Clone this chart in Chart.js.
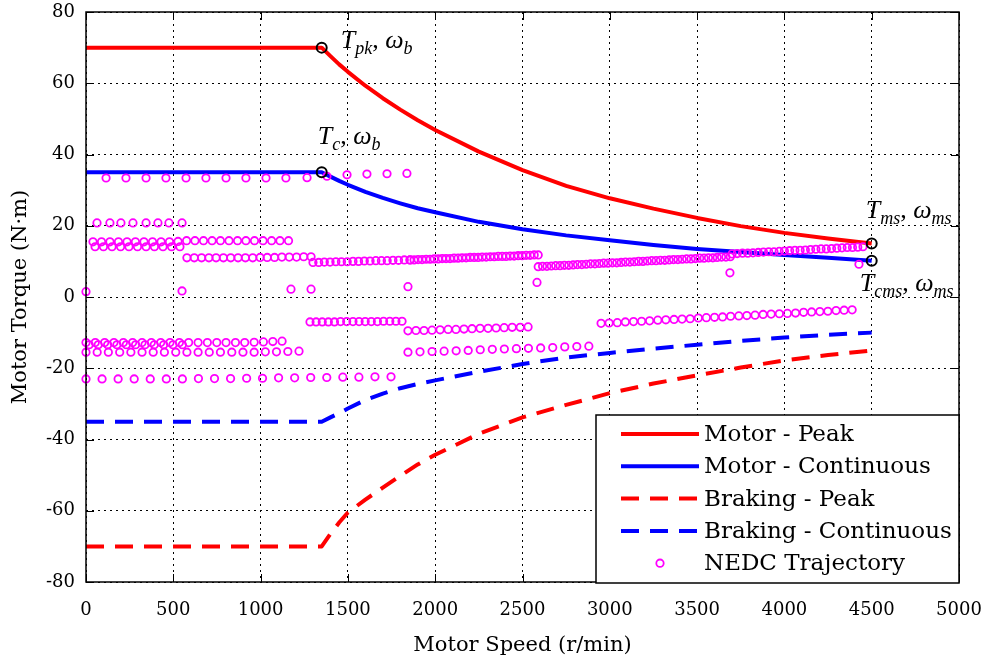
<!DOCTYPE html>
<html>
<head>
<meta charset="utf-8">
<title>Motor torque envelope and NEDC operating points</title>
<script src="https://cdn.jsdelivr.net/npm/chart.js@4.4.1/dist/chart.umd.min.js"></script>
<style>
  html, body { margin: 0; padding: 0; background: #fff; }
  #wrap { width: 990px; height: 663px; }
  canvas { display: block; }
</style>
</head>
<body>
<div id="wrap"><canvas id="c" width="990" height="663"></canvas></div>
<script>
// ---- torque envelopes (r/min, N·m) ----
const envelopeSpeed = [0, 1350, 1400, 1450, 1500, 1600, 1700, 1800, 1900, 2000, 2250, 2500, 2750, 3000, 3250, 3500, 3750, 4000, 4250, 4500];
const motorPeak = [70, 70, 67.6, 65.3, 63.2, 59.3, 55.8, 52.6, 49.6, 46.9, 40.8, 35.6, 31.2, 27.7, 24.8, 22.2, 19.9, 18.0, 16.4, 15.0];
const motorCont = [35, 35, 33.8, 32.6, 31.5, 29.5, 27.8, 26.3, 24.9, 23.8, 21.1, 19.0, 17.3, 15.9, 14.6, 13.5, 12.6, 11.8, 11.0, 10.2];
const brakePeak = [-70, -70, -66.5, -63.3, -60.5, -56.9, -53.5, -50.2, -47.0, -44.3, -38.4, -33.8, -30.3, -27.0, -24.3, -22.0, -19.8, -17.8, -16.3, -15.0];
const brakeCont = [-35, -35, -33.8, -32.6, -31.3, -28.9, -27.1, -25.6, -24.4, -23.4, -21.0, -18.8, -17.0, -15.7, -14.5, -13.4, -12.3, -11.4, -10.6, -10.0];

// ---- corner points of the envelopes ----
const cornerSpeed = [1350, 1350, 4500, 4500];
const cornerTorque = [70, 35, 15.0, 10.2];
const cornerSymbol = [['T', 'pk', 'ω', 'b'], ['T', 'c', 'ω', 'b'], ['T', 'ms', 'ω', 'ms'], ['T', 'cms', 'ω', 'ms']];

// ---- NEDC trajectory, [speed r/min, torque N·m] ----
const nedcAccel34 = [[115,33.4],[229,33.4],[344,33.4],[458,33.4],[573,33.4],[687,33.4],[802,33.4],[916,33.4],[1031,33.4],[1145,33.4],[1266,33.5],[1380,33.9],[1495,34.3],[1609,34.5],[1724,34.6],[1838,34.7]];
const nedcAccel21 = [[63,20.8],[137,20.8],[200,20.8],[269,20.8],[344,20.8],[412,20.8],[475,20.8],[550,20.8]];
const nedcAccel15 = [[40,15.5],[89,15.5],[137,15.5],[186,15.5],[235,15.5],[283,15.5],[332,15.5],[381,15.5],[430,15.5],[478,15.5],[527,15.6],[576,15.8],[624,15.8],[673,15.8],[722,15.8],[770,15.8],[819,15.8],[868,15.8],[916,15.8],[965,15.8],[1014,15.8],[1063,15.8],[1111,15.8],[1160,15.8]];
const nedcAccel14 = [[52,14.1],[100,14.1],[149,14.1],[198,14.1],[246,14.1],[295,14.1],[344,14.1],[392,14.1],[441,14.1],[490,14.1],[538,14.1]];
const nedcAccel11 = [[578,11.0],[620,11.0],[662,11.0],[704,11.0],[745,11.0],[787,11.0],[829,11.0],[871,11.0],[913,11.0],[955,11.0],[997,11.1],[1038,11.1],[1080,11.1],[1122,11.2],[1164,11.2],[1206,11.2],[1247,11.3],[1289,11.3]];
const nedcAccel35to50 = [[1300,9.7],[1333,9.7],[1365,9.8],[1398,9.8],[1431,9.9],[1463,9.9],[1496,9.9],[1529,10.0],[1561,10.0],[1594,10.1],[1627,10.1],[1660,10.2],[1692,10.2],[1725,10.2],[1758,10.3],[1790,10.3],[1823,10.4],[1856,10.4]];
const nedcAccel50to70 = [[1856,10.4],[1879,10.4],[1902,10.5],[1925,10.5],[1948,10.6],[1971,10.6],[1994,10.7],[2017,10.7],[2040,10.8],[2062,10.8],[2085,10.8],[2108,10.9],[2131,10.9],[2154,11.0],[2177,11.0],[2200,11.1],[2223,11.1],[2246,11.1],[2269,11.2],[2292,11.2],[2315,11.3],[2338,11.3],[2361,11.4],[2384,11.4],[2406,11.4],[2429,11.5],[2452,11.5],[2475,11.6],[2498,11.6],[2521,11.7],[2544,11.7],[2567,11.8],[2590,11.8]];
const nedcAccel70to100 = [[2590,8.5],[2615,8.6],[2640,8.6],[2665,8.7],[2690,8.8],[2715,8.8],[2740,8.9],[2765,8.9],[2790,9.0],[2815,9.1],[2840,9.1],[2865,9.2],[2890,9.3],[2915,9.3],[2940,9.4],[2965,9.5],[2990,9.5],[3015,9.6],[3040,9.6],[3065,9.7],[3090,9.8],[3115,9.8],[3140,9.9],[3165,10.0],[3190,10.0],[3215,10.1],[3240,10.2],[3265,10.2],[3290,10.3],[3315,10.3],[3340,10.4],[3365,10.5],[3390,10.5],[3415,10.6],[3440,10.7],[3465,10.7],[3490,10.8],[3515,10.9],[3540,10.9],[3565,11.0],[3590,11.0],[3615,11.1],[3640,11.2],[3665,11.2],[3690,11.3]];
const nedcAccel100to120 = [[3700,12.1],[3730,12.2],[3760,12.3],[3790,12.3],[3820,12.4],[3850,12.5],[3880,12.6],[3910,12.7],[3940,12.7],[3970,12.8],[4000,12.9],[4030,13.0],[4060,13.1],[4090,13.1],[4120,13.2],[4150,13.3],[4180,13.4],[4210,13.5],[4240,13.5],[4270,13.6],[4300,13.7],[4330,13.8],[4360,13.9],[4390,13.9],[4420,14.0],[4450,14.1]];
const nedcCruise = [[0,1.5],[550,1.7],[1174,2.2],[1289,2.2],[1844,2.9],[2583,4.1],[3688,6.8],[4427,9.2]];
const nedcDecel7 = [[1283,-7.0],[1318,-7.0],[1353,-7.0],[1388,-7.0],[1423,-7.0],[1458,-6.9],[1493,-6.9],[1529,-6.9],[1564,-6.9],[1599,-6.9],[1634,-6.9],[1669,-6.9],[1704,-6.8],[1740,-6.8],[1775,-6.8],[1810,-6.8]];
const nedcDecel9 = [[1844,-9.5],[1890,-9.4],[1936,-9.4],[1982,-9.3],[2028,-9.2],[2074,-9.1],[2119,-9.1],[2165,-9.0],[2211,-8.9],[2257,-8.8],[2303,-8.8],[2349,-8.7],[2395,-8.6],[2441,-8.5],[2487,-8.5],[2532,-8.4]];
const nedcDecelHigh = [[2950,-7.4],[2996,-7.3],[3043,-7.2],[3089,-7.0],[3136,-6.9],[3182,-6.8],[3228,-6.7],[3275,-6.5],[3321,-6.4],[3368,-6.3],[3414,-6.2],[3460,-6.1],[3507,-5.9],[3553,-5.8],[3600,-5.7],[3646,-5.6],[3692,-5.4],[3739,-5.3],[3785,-5.2],[3832,-5.1],[3878,-4.9],[3924,-4.8],[3971,-4.7],[4017,-4.6],[4064,-4.5],[4110,-4.3],[4156,-4.2],[4203,-4.1],[4249,-4.0],[4296,-3.8],[4342,-3.7],[4388,-3.6]];
const nedcDecel13 = [[0,-12.8],[53,-12.8],[107,-12.8],[160,-12.8],[214,-12.8],[267,-12.8],[321,-12.8],[374,-12.8],[428,-12.8],[481,-12.8],[535,-12.8],[588,-12.8],[642,-12.8],[695,-12.8],[749,-12.8],[802,-12.8],[856,-12.8],[909,-12.8],[963,-12.7],[1016,-12.6],[1070,-12.5],[1123,-12.4]];
const nedcDecel13b = [[18,-13.4],[70,-13.4],[124,-13.4],[177,-13.4],[231,-13.4],[284,-13.4],[338,-13.4],[391,-13.4],[445,-13.4],[498,-13.4],[552,-13.4]];
const nedcDecel15 = [[0,-15.5],[64,-15.5],[128,-15.5],[193,-15.5],[257,-15.5],[321,-15.5],[385,-15.5],[449,-15.5],[514,-15.5],[578,-15.5],[642,-15.5],[706,-15.5],[770,-15.5],[835,-15.5],[899,-15.5],[963,-15.5],[1027,-15.4],[1091,-15.4],[1156,-15.3],[1220,-15.2]];
const nedcDecel15High = [[1844,-15.5],[1913,-15.4],[1982,-15.3],[2051,-15.2],[2120,-15.1],[2189,-15.0],[2258,-14.8],[2327,-14.7],[2396,-14.6],[2465,-14.5],[2534,-14.4],[2604,-14.3],[2673,-14.2],[2742,-14.0],[2811,-13.9],[2880,-13.8]];
const nedcDecel23 = [[0,-23.0],[92,-23.0],[184,-23.0],[276,-23.0],[368,-23.0],[460,-23.0],[552,-23.0],[644,-22.9],[736,-22.9],[828,-22.9],[920,-22.8],[1011,-22.8],[1103,-22.7],[1195,-22.7],[1287,-22.6],[1379,-22.6],[1471,-22.5],[1563,-22.5],[1655,-22.4],[1747,-22.4]];

// ---- axis ticks ----
const speedTicks = [0, 500, 1000, 1500, 2000, 2500, 3000, 3500, 4000, 4500, 5000];
const torqueTicks = [-80, -60, -40, -20, 0, 20, 40, 60, 80];

const SERIF = '"DejaVu Serif", "Liberation Serif", serif';
const MATH = '"Liberation Serif", "DejaVu Serif", serif';

const toXY = (xs, ys) => xs.map((s, i) => ({ x: s, y: ys[i] }));
const nedcPoints = [
  nedcAccel34, nedcAccel21, nedcAccel15, nedcAccel14, nedcAccel11, nedcAccel35to50, nedcAccel50to70,
  nedcAccel70to100, nedcAccel100to120, nedcCruise, nedcDecel7, nedcDecel9, nedcDecelHigh,
  nedcDecel13, nedcDecel13b, nedcDecel15, nedcDecel15High, nedcDecel23
].flat().map(([s, t]) => ({ x: s, y: t }));

function envelope(label, values, color, dashed) {
  return {
    type: 'line', label, data: toXY(envelopeSpeed, values),
    borderColor: color, backgroundColor: color, borderWidth: 4,
    borderDash: dashed ? [18, 11] : [], borderCapStyle: 'butt', borderJoinStyle: 'round',
    pointRadius: 0, showLine: true, fill: false, tension: 0, order: 3
  };
}

const datasets = [
  envelope('Motor - Peak', motorPeak, '#ff0000', false),
  envelope('Motor - Continuous', motorCont, '#0000ff', false),
  envelope('Braking - Peak', brakePeak, '#ff0000', true),
  envelope('Braking - Continuous', brakeCont, '#0000ff', true),
  {
    type: 'scatter', label: 'NEDC Trajectory', data: nedcPoints,
    borderColor: '#ff00ff', backgroundColor: 'rgba(0,0,0,0)', pointRadius: 3.7, borderWidth: 1.8,
    pointStyle: 'circle', clip: false, order: 2
  },
  {
    type: 'scatter', label: '', data: toXY(cornerSpeed, cornerTorque),
    borderColor: '#000', backgroundColor: 'rgba(0,0,0,0)', pointRadius: 5, borderWidth: 2,
    pointStyle: 'circle', clip: false, order: 1
  }
];

// where each corner symbol sits relative to its marker (px)
const cornerLabelShift = [[19, 0], [-4, -28], [-6, -26], [-12, 30]];

function drawSymbol(ctx, x, y, parts) {
  const [b1, s1, b2, s2] = parts;
  const big = 'italic 26px ' + MATH, small = 'italic 18px ' + MATH, upright = '26px ' + MATH;
  let cx = x;
  ctx.font = big; ctx.fillText(b1, cx, y); cx += ctx.measureText(b1).width;
  ctx.font = small; ctx.fillText(s1, cx, y + 6); cx += ctx.measureText(s1).width;
  ctx.font = upright; ctx.fillText(',', cx, y); cx += ctx.measureText(', ').width;
  ctx.font = big; ctx.fillText(b2, cx, y); cx += ctx.measureText(b2).width;
  ctx.font = small; ctx.fillText(s2, cx, y + 6);
}

const decorations = {
  id: 'decorations',
  afterDatasetsDraw(chart) {
    const { ctx, chartArea: a, scales: { x, y } } = chart;
    ctx.save();
    // inward tick marks on every side of the box
    const tl = 8;
    ctx.strokeStyle = '#000';
    ctx.lineWidth = 1;
    ctx.beginPath();
    speedTicks.forEach(v => {
      const px = Math.round(x.getPixelForValue(v)) + 0.5;
      ctx.moveTo(px, a.bottom); ctx.lineTo(px, a.bottom - tl);
      ctx.moveTo(px, a.top); ctx.lineTo(px, a.top + tl);
    });
    torqueTicks.forEach(v => {
      const py = Math.round(y.getPixelForValue(v)) + 0.5;
      ctx.moveTo(a.left, py); ctx.lineTo(a.left + tl, py);
      ctx.moveTo(a.right, py); ctx.lineTo(a.right - tl, py);
    });
    ctx.stroke();
    ctx.lineWidth = 1.5;
    ctx.strokeRect(a.left, a.top, a.right - a.left, a.bottom - a.top);

    // corner symbols
    ctx.fillStyle = '#000';
    ctx.textAlign = 'left';
    ctx.textBaseline = 'alphabetic';
    cornerSpeed.forEach((s, i) => {
      const px = x.getPixelForValue(s) + cornerLabelShift[i][0];
      const py = y.getPixelForValue(cornerTorque[i]) + cornerLabelShift[i][1];
      drawSymbol(ctx, px, py, cornerSymbol[i]);
    });

    // legend box in the lower right corner
    const items = chart.data.datasets.filter(d => d.label);
    const box = { x: 596, y: 415, w: a.right - 596, h: a.bottom + 1 - 415 };
    ctx.fillStyle = '#fff';
    ctx.fillRect(box.x, box.y, box.w, box.h);
    ctx.strokeStyle = '#000';
    ctx.lineWidth = 1.5;
    ctx.strokeRect(box.x, box.y, box.w, box.h);
    const sx0 = box.x + 25, sx1 = box.x + 103, tx = box.x + 108;
    items.forEach((d, i) => {
      const cy = box.y + 19 + i * 32.3;
      if (d.type === 'line') {
        ctx.strokeStyle = d.borderColor;
        ctx.lineWidth = 4;
        ctx.lineCap = 'butt';
        ctx.setLineDash(d.borderDash);
        ctx.beginPath(); ctx.moveTo(sx0, cy); ctx.lineTo(sx1, cy); ctx.stroke();
        ctx.setLineDash([]);
      } else {
        ctx.strokeStyle = d.borderColor;
        ctx.lineWidth = d.borderWidth;
        ctx.beginPath(); ctx.arc((sx0 + sx1) / 2, cy, d.pointRadius, 0, Math.PI * 2); ctx.stroke();
      }
      ctx.fillStyle = '#000';
      ctx.font = '23px ' + SERIF;
      ctx.textBaseline = 'middle';
      ctx.fillText(d.label, tx, cy + 1);
    });
    ctx.restore();
  }
};

const noEdgePadding = s => { s.paddingLeft = 0; s.paddingRight = 0; s.paddingTop = 0; s.paddingBottom = 0; };

new Chart(document.getElementById('c'), {
  type: 'scatter',
  data: { datasets },
  options: {
    responsive: false,
    animation: false,
    devicePixelRatio: 1,
    layout: { padding: { top: 12, right: 31, left: 0, bottom: 0 } },
    plugins: { legend: { display: false }, tooltip: { enabled: false } },
    scales: {
      x: {
        type: 'linear', min: 0, max: 5000,
        afterBuildTicks: s => { s.ticks = speedTicks.map(v => ({ value: v })); },
        afterFit: s => { s.height = 81; noEdgePadding(s); },
        ticks: { color: '#000', font: { family: SERIF, size: 18 }, padding: 18, maxRotation: 0, autoSkip: false, callback: v => String(v) },
        grid: { color: '#000', lineWidth: 1, drawTicks: false },
        border: { display: false, dash: [2, 4] },
        title: { display: true, text: 'Motor Speed (r/min)', color: '#000', font: { family: SERIF, size: 21 }, padding: { top: 0, bottom: 5 } }
      },
      y: {
        type: 'linear', min: -80, max: 80,
        afterBuildTicks: s => { s.ticks = torqueTicks.map(v => ({ value: v })); },
        afterFit: s => { s.width = 86; noEdgePadding(s); },
        ticks: { color: '#000', font: { family: SERIF, size: 18 }, padding: 11, autoSkip: false, callback: v => String(v) },
        grid: { color: '#000', lineWidth: 1, drawTicks: false },
        border: { display: false, dash: [2, 4] },
        title: { display: true, text: 'Motor Torque (N·m)', color: '#000', font: { family: SERIF, size: 21 }, padding: { top: 8, bottom: 0 } }
      }
    }
  },
  plugins: [decorations]
});
</script>
</body>
</html>
